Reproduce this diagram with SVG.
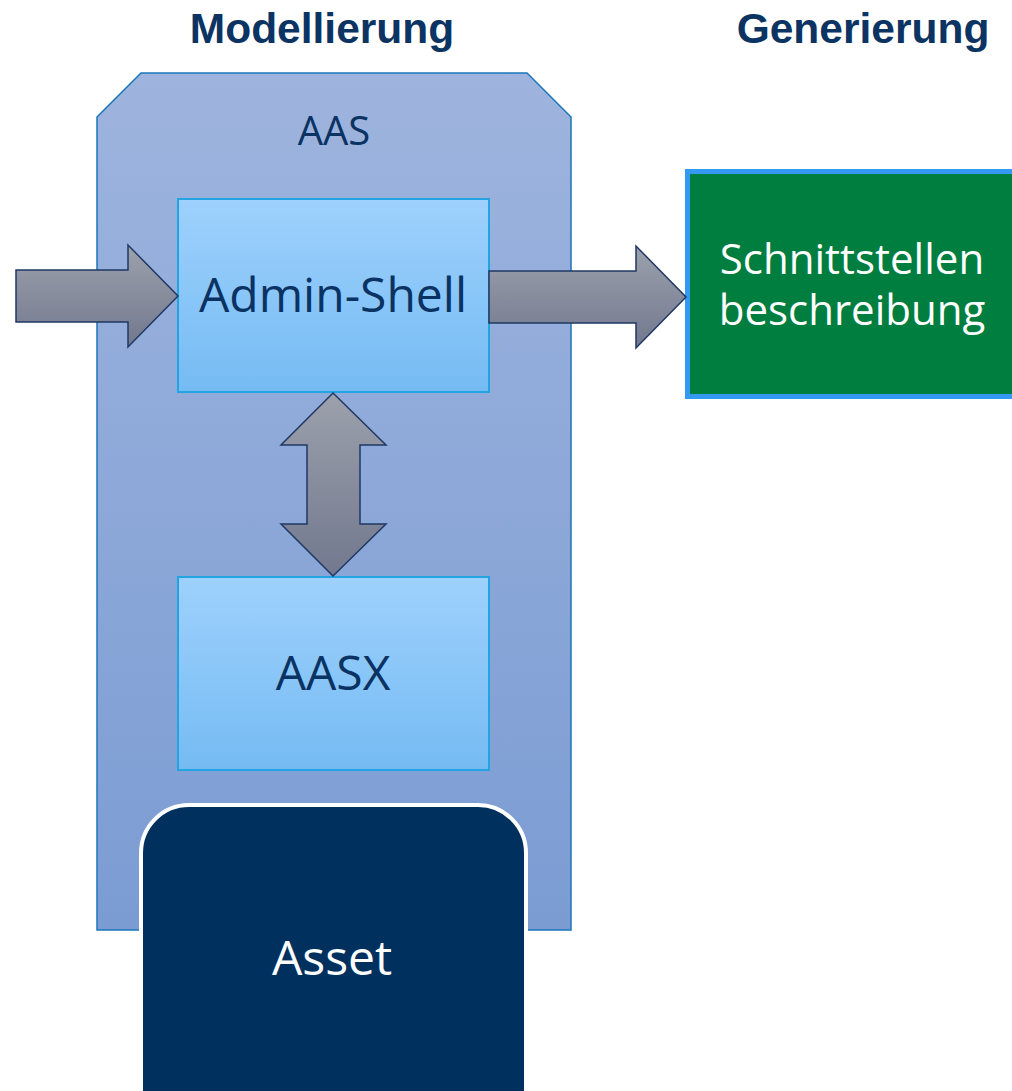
<svg xmlns="http://www.w3.org/2000/svg" width="1012" height="1091" viewBox="0 0 1012 1091">
  <defs>
    <linearGradient id="gAas" x1="0" y1="0" x2="0" y2="1">
      <stop offset="0" stop-color="#9EB4DE"/>
      <stop offset="1" stop-color="#7B9CD3"/>
    </linearGradient>
    <linearGradient id="gBox" x1="0" y1="0" x2="0" y2="1">
      <stop offset="0" stop-color="#9ED1FD"/>
      <stop offset="1" stop-color="#75BBF3"/>
    </linearGradient>
    <linearGradient id="gArrow" x1="0" y1="0" x2="0" y2="1">
      <stop offset="0" stop-color="#9CA1AC"/>
      <stop offset="1" stop-color="#72788E"/>
    </linearGradient>
    <style>
      .title { font-family: "Liberation Sans", Arial, sans-serif; font-weight: bold; font-size: 42.5px; fill: #0C3463; text-anchor: middle; }
      .label { font-family: "Open Sans", "Noto Sans", sans-serif; fill: #0A3262; text-anchor: middle; }
      .light { font-family: "Open Sans", "Noto Sans", sans-serif; fill: #FFFFFF; text-anchor: middle; }
      .inner { fill: url(#gBox); stroke: #22A4E2; stroke-width: 2; }
      .arrow { fill: url(#gArrow); stroke: #1F3864; stroke-width: 1.5; stroke-linejoin: miter; }
    </style>
  </defs>

  <!-- column headings -->
  <text class="title" x="322" y="43">Modellierung</text>
  <text class="title" x="863" y="43">Generierung</text>

  <!-- asset administration shell container -->
  <g id="aas">
    <polygon points="97,117 141,73 527,73 571,117 571,930 97,930" fill="url(#gAas)" stroke="#1B75BC" stroke-width="1.5"/>
    <text class="label" x="334" y="145" font-size="40">AAS</text>
  </g>

  <g id="admin-shell">
    <rect class="inner" x="178" y="199" width="311" height="193"/>
    <text class="label" x="333" y="312" font-size="48">Admin-Shell</text>
  </g>

  <g id="aasx">
    <rect class="inner" x="178" y="577" width="311" height="193"/>
    <text class="label" x="333" y="690" font-size="48">AASX</text>
  </g>

  <g id="asset">
    <rect x="141" y="805" width="385" height="340" rx="48" ry="48" fill="#00305E" stroke="#FFFFFF" stroke-width="4"/>
    <text class="light" x="332" y="975" font-size="48">Asset</text>
  </g>

  <g id="interface-description">
    <rect x="687.5" y="171.5" width="340" height="225" fill="#007E40" stroke="#3399F3" stroke-width="5"/>
    <text class="light" x="852" y="274" font-size="42">Schnittstellen</text>
    <text class="light" x="852" y="325" font-size="42">beschreibung</text>
  </g>

  <!-- block arrows -->
  <g id="connectors">
    <polygon class="arrow" points="16,270 128,270 128,245 178,296 128,347 128,322 16,322"/>
    <polygon class="arrow" points="489,271 636,271 636,246 686,297 636,348 636,323 489,323"/>
    <polygon class="arrow" points="333,393 386,445 360,445 360,524 386,524 333,576 281,524 307,524 307,445 281,445"/>
  </g>
</svg>
